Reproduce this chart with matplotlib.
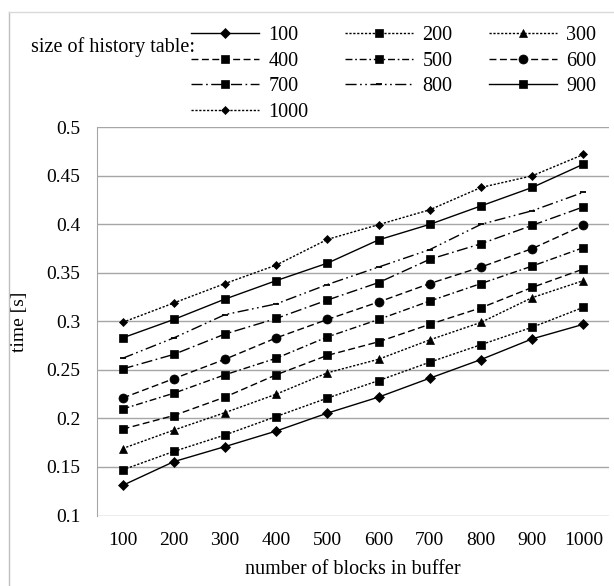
import matplotlib.pyplot as plt
from matplotlib.lines import Line2D

plt.rcParams['font.family'] = ['Liberation Serif', 'DejaVu Serif']

# datos
blocks = ['100', '200', '300', '400', '500', '600', '700', '800', '900', '1000']
t100 = [0.131, 0.1555, 0.171, 0.187, 0.2055, 0.222, 0.2415, 0.2607, 0.282, 0.297]
t200 = [0.147, 0.166, 0.183, 0.202, 0.221, 0.239, 0.258, 0.276, 0.294, 0.3145]
t300 = [0.169, 0.188, 0.206, 0.225, 0.247, 0.261, 0.281, 0.299, 0.3245, 0.342]
t400 = [0.189, 0.203, 0.222, 0.245, 0.265, 0.279, 0.297, 0.314, 0.335, 0.354]
t500 = [0.2097, 0.226, 0.245, 0.262, 0.284, 0.302, 0.321, 0.339, 0.357, 0.376]
t600 = [0.221, 0.241, 0.261, 0.283, 0.302, 0.320, 0.339, 0.356, 0.375, 0.399]
t700 = [0.251, 0.266, 0.287, 0.303, 0.322, 0.340, 0.364, 0.380, 0.399, 0.418]
t800 = [0.262, 0.283, 0.307, 0.318, 0.338, 0.356, 0.374, 0.400, 0.414, 0.433]
t900 = [0.283, 0.302, 0.323, 0.342, 0.360, 0.384, 0.400, 0.419, 0.438, 0.462]
t1000 = [0.299, 0.319, 0.339, 0.358, 0.3845, 0.3997, 0.415, 0.438, 0.450, 0.472]
labels = ['100', '200', '300', '400', '500', '600', '700', '800', '900', '1000']

# estilos de cada serie (linea, marcador, tamano)
dot = (0, (1.6, 1.2))
dash = (0, (5, 2.5))
dashdot = (0, (5, 2, 1.2, 2))
lgdashdot = (0, (8, 2.5, 1.2, 2.5))
lgdashdotdot = (0, (8, 2.5, 1.2, 2.5, 1.2, 2.5))
estilos = [
    ('-', 'D', 5),
    (dot, 's', 6),
    (dot, '^', 6),
    (dash, 's', 6),
    (dashdot, 's', 6),
    (dash, 'o', 6.5),
    (lgdashdot, 's', 6),
    (lgdashdotdot, '_', 5),
    ('-', 's', 6),
    (dot, 'D', 4.5),
]

series = [t100, t200, t300, t400, t500, t600, t700, t800, t900, t1000]

fig = plt.figure(figsize=(6.14, 5.86), dpi=100)
ax = fig.add_axes([97 / 614, 1 - 515.5 / 586, (609 - 97) / 614, (515.5 - 127.3) / 586])

x = range(len(blocks))
handles = []
for vals, (ls, mk, ms), lab in zip(series, estilos, labels):
    h, = ax.plot(x, vals, color='black', linestyle=ls, linewidth=1.0,
                 marker=mk, markersize=ms, markeredgewidth=1.3 if mk == '_' else 0.5,
                 label=lab)
    handles.append(h)

ax.set_xlim(-0.5, len(blocks) - 0.5)
ax.set_ylim(0.1, 0.5)
ax.set_yticks([0.1, 0.15, 0.2, 0.25, 0.3, 0.35, 0.4, 0.45, 0.5])
ax.set_yticklabels(['0.1', '0.15', '0.2', '0.25', '0.3', '0.35', '0.4', '0.45', '0.5'])
ax.set_xticks(list(x))
ax.set_xticklabels(blocks)
ax.tick_params(length=0, labelsize=14, pad=12)
ax.grid(axis='y', color='#a6a6a6', linewidth=1)
ax.set_axisbelow(True)
for s in ['top', 'right']:
    ax.spines[s].set_visible(False)
ax.spines['bottom'].set_visible(False)
ax.spines['left'].set_color('#a6a6a6')
ax.set_ylabel('time [s]', fontsize=14)
ax.yaxis.set_label_coords(-0.135, 0.5)
ax.set_xlabel('number of blocks in buffer', fontsize=14.5, labelpad=8)

# leyenda en orden por filas
orden = [0, 3, 6, 9, 1, 4, 7, 2, 5, 8]
fig.legend([handles[i] for i in orden], [labels[i] for i in orden],
           ncol=3, loc='upper left', bbox_to_anchor=(191 / 614, 1 - 26 / 586),
           frameon=False, fontsize=14.5, handlelength=3.4, handletextpad=0.45,
           columnspacing=1.8, labelspacing=0.32, borderpad=0, borderaxespad=0)
fig.text(31 / 614, 1 - 47 / 586, 'size of history table:', fontsize=14.5,
         ha='left', va='center')

# marco exterior del grafico
fig.add_artist(Line2D([9 / 614, 9 / 614], [0, 1 - 11.7 / 586], color='#bfbfbf',
                      linewidth=1, transform=fig.transFigure))
fig.add_artist(Line2D([9 / 614, 1], [1 - 11.7 / 586, 1 - 11.7 / 586], color='#d9d9d9',
                      linewidth=1, transform=fig.transFigure))

fig.savefig('out.png', dpi=100)
